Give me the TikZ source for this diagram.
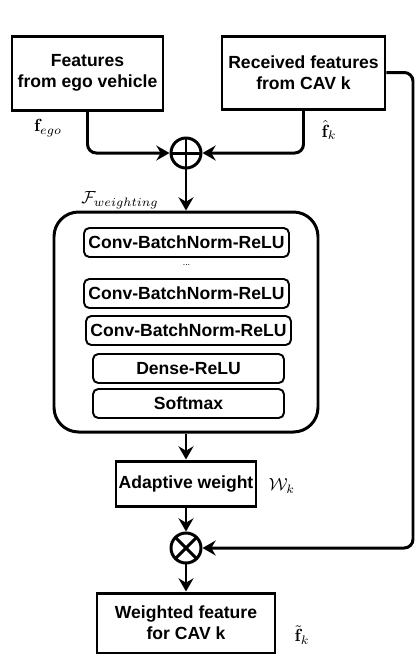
\documentclass[tikz,border=0pt]{standalone}
\usepackage{amsmath}
\usepackage[no-math]{fontspec}
\setmainfont{Liberation Sans}
\usetikzlibrary{arrows.meta}

\tikzset{
  box/.style={draw, line width=1.7pt, align=center, font=\bfseries, inner sep=0pt},
  layer/.style={draw, line width=1.1pt, rounded corners=3pt, minimum height=29*0.02cm, font=\bfseries, inner sep=0pt},
  op/.style={draw, circle, line width=1.7pt, minimum size=0.6cm, inner sep=0pt},
  arr/.style={line width=1.7pt, -{Stealth[length=7.5pt,width=8.5pt,inset=2.5pt]}},
}

\begin{document}
\begin{tikzpicture}[x=0.02cm, y=-0.02cm]
 \useasboundingbox (0,0) rectangle (416,654);

 % inputs
 \node[box, minimum width=151*0.02cm, minimum height=74*0.02cm] (ego) at (87.5,73) {Features\\from ego vehicle};
 \node[box, minimum width=163*0.02cm, minimum height=73*0.02cm] (cav) at (303.5,72.5) {Received features\\from CAV k};
 \node (fego) at (48,128) {$\mathbf{f}_{ego}$};
 \node (fk) at (329,130) {$\hat{\mathbf{f}}_k$};

 % fusion
 \node[op, path picture={
   \draw[line width=1.7pt] (path picture bounding box.north) -- (path picture bounding box.south);
   \draw[line width=1.7pt] (path picture bounding box.west) -- (path picture bounding box.east);}] (plus) at (186,153) {};
 \draw[arr, rounded corners=5pt] (ego.south) |- (plus.west);
 \draw[arr, rounded corners=5pt] (cav.south) |- (plus.east);

 % weighting network
 \node[draw, line width=1.7pt, rounded corners=14pt, minimum width=264*0.02cm, minimum height=220*0.02cm] (net) at (186,322) {};
 \node (fw) at (120,200) {$\mathcal{F}_{weighting}$};
 \draw[arr] (plus) -- (net.north);
 \node[layer, minimum width=205*0.02cm] (conv1) at (186.5,242.5) {Conv-BatchNorm-ReLU};
 \node[font=\tiny] (dots) at (186.5,265) {...};
 \node[layer, minimum width=205*0.02cm] (conv2) at (186.5,293.5) {Conv-BatchNorm-ReLU};
 \node[layer, minimum width=205*0.02cm] (conv3) at (188.5,330.5) {Conv-BatchNorm-ReLU};
 \node[layer, minimum width=191*0.02cm] (dense) at (188.5,368.5) {Dense-ReLU};
 \node[layer, minimum width=191*0.02cm] (soft) at (188.5,403.5) {Softmax};

 % weight and output
 \node[box, minimum width=140*0.02cm, minimum height=45*0.02cm] (adapt) at (186,483.5) {Adaptive weight};
 \node (wk) at (282,486) {$\mathcal{W}_k$};
 \draw[arr] (net.south) -- (adapt.north);
 \node[op, path picture={
   \draw[line width=1.7pt] (path picture bounding box.north west) -- (path picture bounding box.south east);
   \draw[line width=1.7pt] (path picture bounding box.south west) -- (path picture bounding box.north east);}] (times) at (186,548) {};
 \draw[arr] (adapt.south) -- (times.north);
 \coordinate (rt) at (413,548);
 \draw[arr, rounded corners=5pt] (cav.east) -| (rt) -- (times.east);
 \node[box, minimum width=178*0.02cm, minimum height=60*0.02cm] (out) at (186,623) {Weighted feature\\for CAV k};
 \node (ftk) at (302,635) {$\tilde{\mathbf{f}}_k$};
 \draw[arr] (times.south) -- (out.north);

\end{tikzpicture}
\end{document}
